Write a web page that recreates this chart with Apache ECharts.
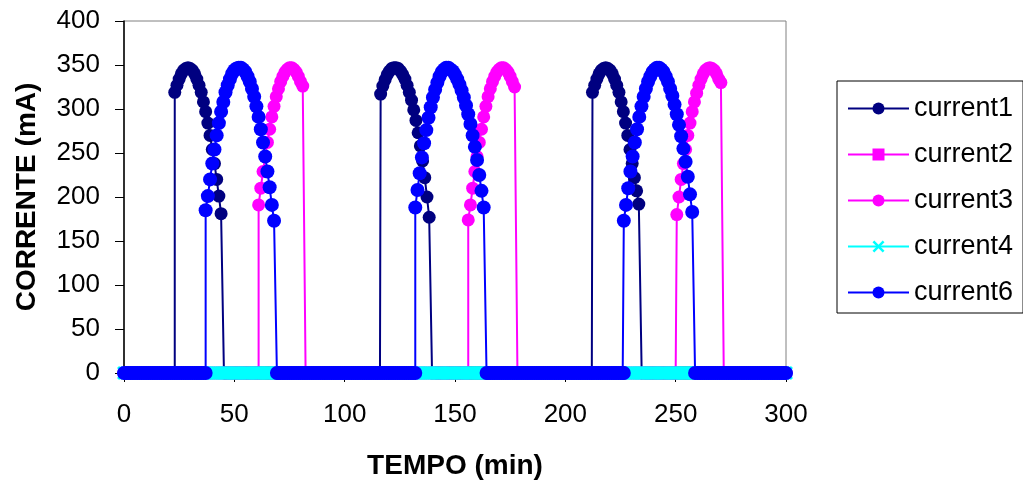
<!DOCTYPE html>
<html>
<head>
<meta charset="utf-8">
<style>
  html, body { margin: 0; padding: 0; background: #fff; }
  #chart { width: 1023px; height: 485px; }
</style>
<script src="https://cdn.jsdelivr.net/npm/echarts/dist/echarts.min.js"></script>
</head>
<body>
<div id="chart"></div>
<script>
// ---- Data ----
const xMin = 0, xMax = 300, xStep = 50;
const yMin = 0, yMax = 400, yStep = 50;
const seriesNames = ['current1', 'current2', 'current3', 'current4', 'current6'];

// Each pulse: start time (min) and readings taken every minute from that start.
const current1Pulses = [
  { start: 23, values: [319,327,334,340,344,346,347,346,344,340,334,327,319,308,297,284,270,254,238,220,201,181] },
  { start: 116.3, values: [317,326,333,339,343,346,347,347,346,343,339,334,327,319,310,299,287,273,258,241,222,200,177] },
  { start: 212.3, values: [319,327,334,340,344,346,347,346,344,340,334,327,319,308,297,284,270,254,238,222,207,192] }
];
const current2Pulses = [];
const current3Pulses = [
  { start: 61, values: [191,210,229,246,262,277,291,303,314,323,331,337,342,345,347,347,345,342,337,331,326] },
  { start: 156, values: [174,191,210,229,246,262,277,291,303,314,323,331,337,342,345,347,347,345,342,337,331,325] },
  { start: 250.5, values: [180,200,220,238,254,270,284,297,308,318,327,334,340,344,346,347,346,344,340,334,330] }
];
const current4Pulses = [];
const current6Pulses = [
  { start: 37, values: [185,201,220,238,254,270,284,297,308,319,327,334,340,344,346,347,347,345,342,337,331,323,314,303,291,277,262,246,229,211,191,173] },
  { start: 132, values: [188,208,227,245,261,276,290,302,313,322,330,337,342,345,347,347,345,343,339,334,328,321,313,304,294,283,270,257,242,225,207,188] },
  { start: 226.5, values: [173,191,210,229,246,262,277,291,303,314,323,331,337,342,345,347,347,345,342,337,331,323,315,305,294,282,269,255,240,223,203,183] }
];
const fallDelay = 1.3; // minutes from last reading to the zero of the falling edge

// Series built from the readings: zero readings every minute between pulses.
function buildSeries(pulses) {
  const pts = [];
  let t = xMin;
  pulses.forEach(p => {
    for (let k = Math.ceil(t); k < p.start; k++) pts.push([k, 0]);
    pts.push([p.start, 0]);
    p.values.forEach((v, i) => pts.push([p.start + i, v]));
    const end = p.start + p.values.length - 1 + fallDelay;
    pts.push([end, 0]);
    t = end + 0.5;
  });
  for (let k = Math.ceil(t); k <= xMax; k++) pts.push([k, 0]);
  return pts;
}

const FONT = "'Liberation Sans', Arial, sans-serif";
const xSymbol = 'path://M0,1.5L1.5,0L5,3.5L8.5,0L10,1.5L6.5,5L10,8.5L8.5,10L5,6.5L1.5,10L0,8.5L3.5,5Z';

function lineSeries(name, pulses, color, symbol, size) {
  return {
    name: name,
    type: 'line',
    data: buildSeries(pulses),
    symbol: symbol,
    symbolSize: size,
    showAllSymbol: true,
    clip: false,
    color: color,
    itemStyle: { color: color },
    lineStyle: { color: color, width: 2 },
    emphasis: { disabled: true },
    animation: false
  };
}

const chart = echarts.init(document.getElementById('chart'), null, { renderer: 'canvas' });
chart.setOption({
  animation: false,
  backgroundColor: '#fff',
  grid: {
    left: 124, top: 21, width: 662, height: 353,
    show: true, borderColor: '#808080', borderWidth: 1, backgroundColor: 'transparent'
  },
  legend: {
    orient: 'vertical',
    left: 837, top: 81,
    padding: [14, 10, 7, 10],
    itemGap: 19,
    itemWidth: 61, itemHeight: 15,
    borderColor: '#000', borderWidth: 1,
    backgroundColor: '#fff',
    textStyle: { fontFamily: FONT, fontSize: 27, color: '#000' },
    data: seriesNames
  },
  xAxis: {
    type: 'value', min: xMin, max: xMax, interval: xStep,
    name: 'TEMPO (min)', nameLocation: 'middle', nameGap: 79,
    nameTextStyle: { fontFamily: FONT, fontSize: 28, fontWeight: 'bold', color: '#000' },
    axisLine: { show: true, lineStyle: { color: '#000', width: 1 } },
    axisTick: { show: true, inside: false, length: 9, lineStyle: { color: '#000' } },
    axisLabel: { fontFamily: FONT, fontSize: 26, color: '#000', margin: 29 },
    splitLine: { show: false }
  },
  yAxis: {
    type: 'value', min: yMin, max: yMax, interval: yStep,
    name: 'CORRENTE (mA)', nameLocation: 'middle', nameGap: 83,
    nameTextStyle: { fontFamily: FONT, fontSize: 28, fontWeight: 'bold', color: '#000' },
    axisLine: { show: true, lineStyle: { color: '#000', width: 1.5 } },
    axisTick: { show: true, inside: false, length: 9, lineStyle: { color: '#000' } },
    axisLabel: { fontFamily: FONT, fontSize: 26, color: '#000', margin: 24 },
    splitLine: { show: false }
  },
  series: [
    lineSeries('current1', current1Pulses, '#000080', 'circle', 13),
    lineSeries('current2', current2Pulses, '#FF00FF', 'rect', 11),
    lineSeries('current3', current3Pulses, '#FF00FF', 'circle', 13),
    lineSeries('current4', current4Pulses, '#00FFFF', xSymbol, 14),
    lineSeries('current6', current6Pulses, '#0000FF', 'circle', 14)
  ]
});
</script>
</body>
</html>
